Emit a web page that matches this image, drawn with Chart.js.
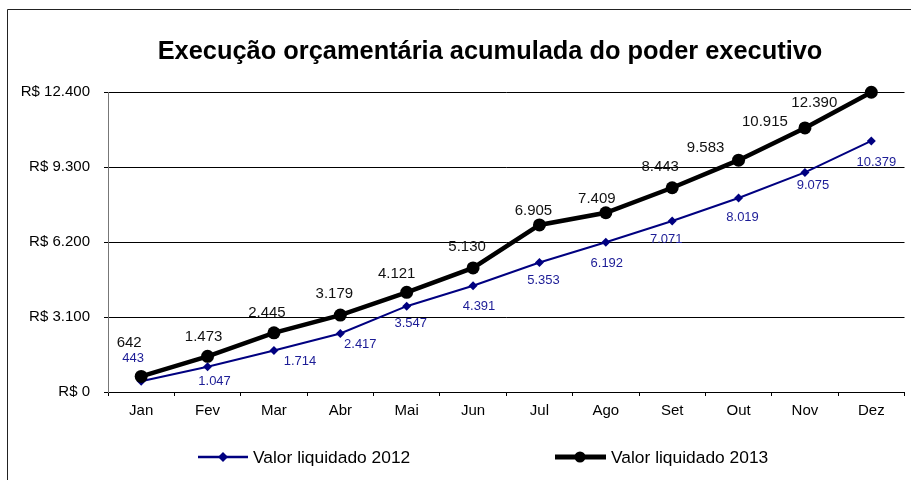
<!DOCTYPE html>
<html>
<head>
<meta charset="utf-8">
<script src="https://cdn.jsdelivr.net/npm/chart.js@4.4.0/dist/chart.umd.min.js"></script>
<style>
  body { margin: 0; background: #fff; }
</style>
</head>
<body>
<canvas id="exec" width="911" height="480"></canvas>
<script>
var meses = ["Jan", "Fev", "Mar", "Abr", "Mai", "Jun", "Jul", "Ago", "Set", "Out", "Nov", "Dez"];
var valor2012 = [443, 1047, 1714, 2417, 3547, 4391, 5353, 6192, 7071, 8019, 9075, 10379];
var valor2013 = [642, 1473, 2445, 3179, 4121, 5130, 6905, 7409, 8443, 9583, 10915, 12390];
var yTicks = [0, 3100, 6200, 9300, 12400];

// label nudges (px) so the numbers sit where they were placed in the original
var off2012 = [[-8,-23],[7,15],[26,11],[20,11],[4,17],[6,21],[4,18],[1,21],[-6,18],[4,19],[8,13],[5,22]];
var off2013 = [[-12,-34],[-4,-20],[-7,-20],[-6,-21],[-10,-18],[-6,-21],[-6,-14],[-9,-14],[-12,-21],[-33,-12],[-40,-6],[-57,11]];

const FONT = "'Liberation Sans', Arial, sans-serif";
const NAVY = "#000080";

function fmt(v) {
  return String(v).replace(/\B(?=(\d{3})+(?!\d))/g, ".");
}

const extras = {
  id: "extras",
  beforeDraw(chart) {
    const c = chart.ctx;
    c.save();
    c.strokeStyle = "#222";
    c.lineWidth = 1;
    c.beginPath();
    c.moveTo(7.5, 480);
    c.lineTo(7.5, 9.5);
    c.lineTo(911, 9.5);
    c.stroke();
    c.restore();
  },
  afterDatasetsDraw(chart) {
    const c = chart.ctx;
    c.save();
    c.textAlign = "center";
    c.textBaseline = "middle";
    const m12 = chart.getDatasetMeta(1), m13 = chart.getDatasetMeta(0);
    c.font = "13px " + FONT;
    c.fillStyle = "#1c1c96";
    m12.data.forEach((p, i) => c.fillText(fmt(valor2012[i]), p.x + off2012[i][0], p.y + off2012[i][1]));
    c.font = "15px " + FONT;
    c.fillStyle = "#111";
    m13.data.forEach((p, i) => c.fillText(fmt(valor2013[i]), p.x + off2013[i][0], p.y + off2013[i][1]));

    // title
    c.font = "bold 25.4px " + FONT;
    c.fillStyle = "#000";
    c.textBaseline = "alphabetic";
    c.fillText("Execução orçamentária acumulada do poder executivo", 490, 59);

    // legend
    c.textAlign = "left";
    c.textBaseline = "middle";
    c.font = "17.4px " + FONT;
    c.strokeStyle = NAVY; c.lineWidth = 2.5;
    c.beginPath(); c.moveTo(198, 457); c.lineTo(248, 457); c.stroke();
    c.fillStyle = NAVY;
    c.beginPath(); c.moveTo(223, 452); c.lineTo(228, 457); c.lineTo(223, 462); c.lineTo(218, 457); c.closePath(); c.fill();
    c.fillStyle = "#000";
    c.fillText("Valor liquidado 2012", 253, 458);
    c.strokeStyle = "#000"; c.lineWidth = 5;
    c.beginPath(); c.moveTo(555, 457); c.lineTo(606, 457); c.stroke();
    c.beginPath(); c.arc(580, 457, 5.5, 0, Math.PI * 2); c.fill();
    c.fillText("Valor liquidado 2013", 611, 458);
    c.restore();
  }
};

new Chart("exec", {
  type: "line",
  data: {
    labels: meses,
    datasets: [{
      label: "Valor liquidado 2013",
      data: valor2013,
      borderColor: "#000",
      backgroundColor: "#000",
      borderWidth: 4.5,
      pointRadius: 6.5,
      pointStyle: "circle",
      pointBorderWidth: 0,
      tension: 0,
      clip: false,
      fill: false
    }, {
      label: "Valor liquidado 2012",
      data: valor2012,
      borderColor: NAVY,
      backgroundColor: NAVY,
      borderWidth: 2,
      pointRadius: 4.5,
      pointStyle: "rectRot",
      pointBorderWidth: 0,
      tension: 0,
      clip: false,
      fill: false
    }]
  },
  options: {
    responsive: false,
    animation: false,
    layout: { padding: { top: 92, right: 2, left: 0, bottom: 0 } },
    plugins: {
      legend: { display: false },
      title: { display: false },
      tooltip: { enabled: false }
    },
    scales: {
      x: {
        offset: true,
        grid: { offset: true, drawOnChartArea: false, drawTicks: true, tickLength: 4, color: "#000" },
        border: { color: "#000", width: 1 },
        ticks: { color: "#000", font: { family: FONT, size: 15 }, padding: 6, maxRotation: 0 },
        afterFit(s) { s.height = 88; }
      },
      y: {
        min: 0,
        max: 12400,
        afterBuildTicks(s) { s.ticks = yTicks.map(v => ({ value: v })); },
        grid: { color: "#000", tickLength: 4, lineWidth: 1 },
        border: { color: "#777", width: 1 },
        ticks: {
          color: "#000",
          font: { family: FONT, size: 15 },
          padding: 14,
          callback: v => "R$ " + fmt(v)
        },
        afterFit(s) { s.width = 108; }
      }
    }
  },
  plugins: [extras]
});
</script>
</body>
</html>
